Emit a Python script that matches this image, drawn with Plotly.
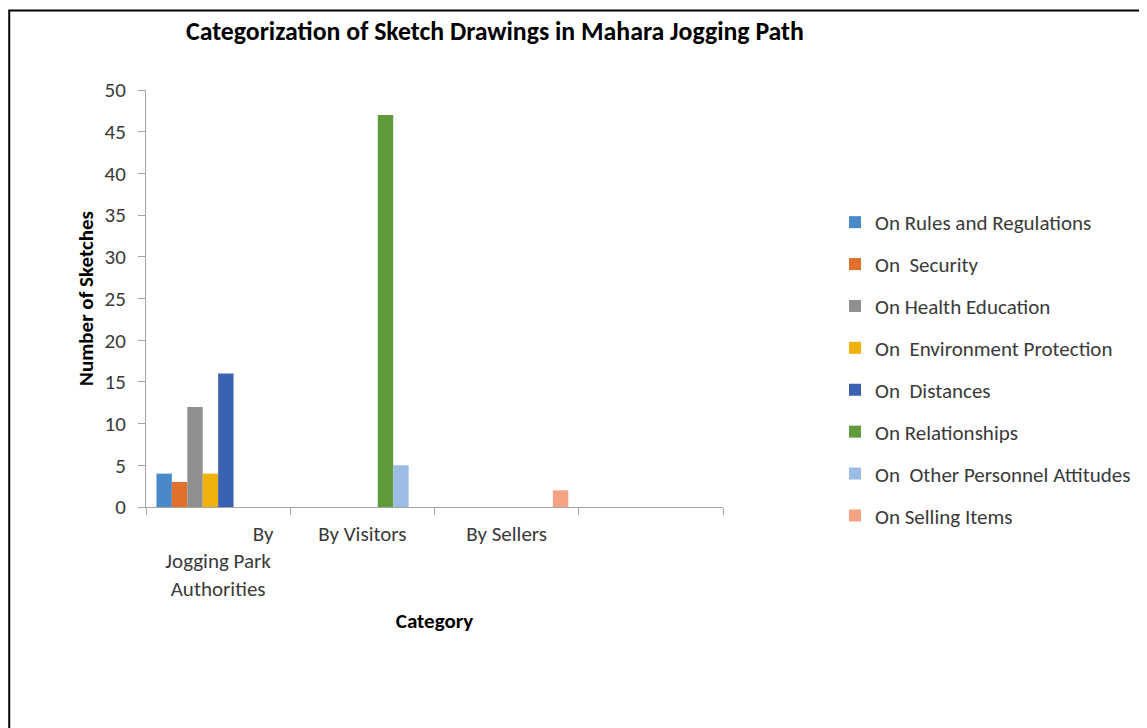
import plotly.graph_objects as go

categories = ["By Jogging Park Authorities", "By Visitors", "By Sellers"]
tick_labels = ["\u00a0" * 19 + "By<br>Jogging Park<br>Authorities", "By Visitors", "By Sellers"]
series_names = [
    "On Rules and Regulations",
    "On  Security",
    "On Health Education",
    "On  Environment Protection",
    "On  Distances",
    "On Relationships",
    "On  Other Personnel Attitudes",
    "On Selling Items",
]
rules_regulations = [4, 0, 0]
security = [3, 0, 0]
health_education = [12, 0, 0]
environment_protection = [4, 0, 0]
distances = [16, 0, 0]
relationships = [0, 47, 0]
other_personnel = [0, 5, 0]
selling_items = [0, 0, 2]
series_values = [rules_regulations, security, health_education, environment_protection,
                 distances, relationships, other_personnel, selling_items]
colors = ["#4A89C8", "#E0702B", "#8F8F8F", "#F1B10B", "#3A62B3", "#5F9B3B", "#9BBCE4", "#F4A385"]

FONT = "Carlito, Lato, sans-serif"
W, H = 1139, 720          # page body has an 8px margin
L, T, PW, PH = 138, 82, 578, 417

fig = go.Figure()
xpos = list(range(len(categories)))
for i, (name, vals) in enumerate(zip(series_names, series_values)):
    fig.add_trace(go.Bar(
        x=xpos, y=vals, name=name, marker=dict(color=colors[i], line=dict(width=0)),
        legendgroup=f"g{i}",
    ))
fig.add_trace(go.Scatter(x=xpos, y=[0, 0, 0], xaxis="x2", mode="markers",
                         marker=dict(opacity=0), showlegend=False, hoverinfo="skip"))

fig.update_layout(
    width=W, height=H,
    paper_bgcolor="white", plot_bgcolor="white",
    margin=dict(l=L, r=W - L - PW, t=T, b=H - T - PH, pad=0),
    barmode="group", bargap=0.145, bargroupgap=0,
    font=dict(family=FONT, size=21, color="#3a3a3a"),
    title=dict(text="<b>Categorization of Sketch Drawings in Mahara Jogging Path</b>",
               x=487 / W, xref="container", xanchor="center",
               y=1 - 23 / H, yref="container", yanchor="middle",
               font=dict(family=FONT, size=25.8, color="#000000")),
    xaxis=dict(range=[-0.5, 3.5], tickmode="array", tickvals=[-0.5, 0.5, 1.5, 2.5, 3.5],
               showticklabels=False, ticks="outside", ticklen=7, tickcolor="#a6a6a6",
               showline=True, linecolor="#a6a6a6", linewidth=1, showgrid=False, zeroline=False),
    xaxis2=dict(overlaying="x", matches="x", side="bottom", range=[-0.5, 3.5], tickmode="array",
                tickvals=xpos, ticktext=tick_labels, ticks="", showline=False, showgrid=False,
                zeroline=False, ticklabelstandoff=12, tickfont=dict(size=21, color="#3a3a3a"),
                title=dict(text="<b>Category</b>", font=dict(size=21, color="#000000"), standoff=12)),
    yaxis=dict(range=[0, 50], dtick=5, ticks="outside", ticklen=7, tickcolor="#a6a6a6",
               showline=True, linecolor="#a6a6a6", linewidth=1, showgrid=False, zeroline=False,
               ticklabelstandoff=8,
               title=dict(text="<b>Number of Sketches</b>", font=dict(size=21, color="#000000"), standoff=5)),
    legend=dict(x=(835 - 8 - L) / PW, xanchor="left", y=(T + PH - (202 - 8)) / PH, yanchor="top",
                font=dict(size=21, color="#3a3a3a"), tracegroupgap=11.6, bgcolor="rgba(0,0,0,0)"),
    showlegend=True,
)
fig.add_shape(type="rect", xref="paper", yref="paper",
              x0=(1 - L) / PW, x1=(W + 20 - L) / PW,
              y0=(T + PH - (H + 20)) / PH, y1=(T + PH - 2.5) / PH,
              line=dict(color="#000000", width=2), fillcolor="rgba(0,0,0,0)", layer="below")
fig.write_html("out.html")
